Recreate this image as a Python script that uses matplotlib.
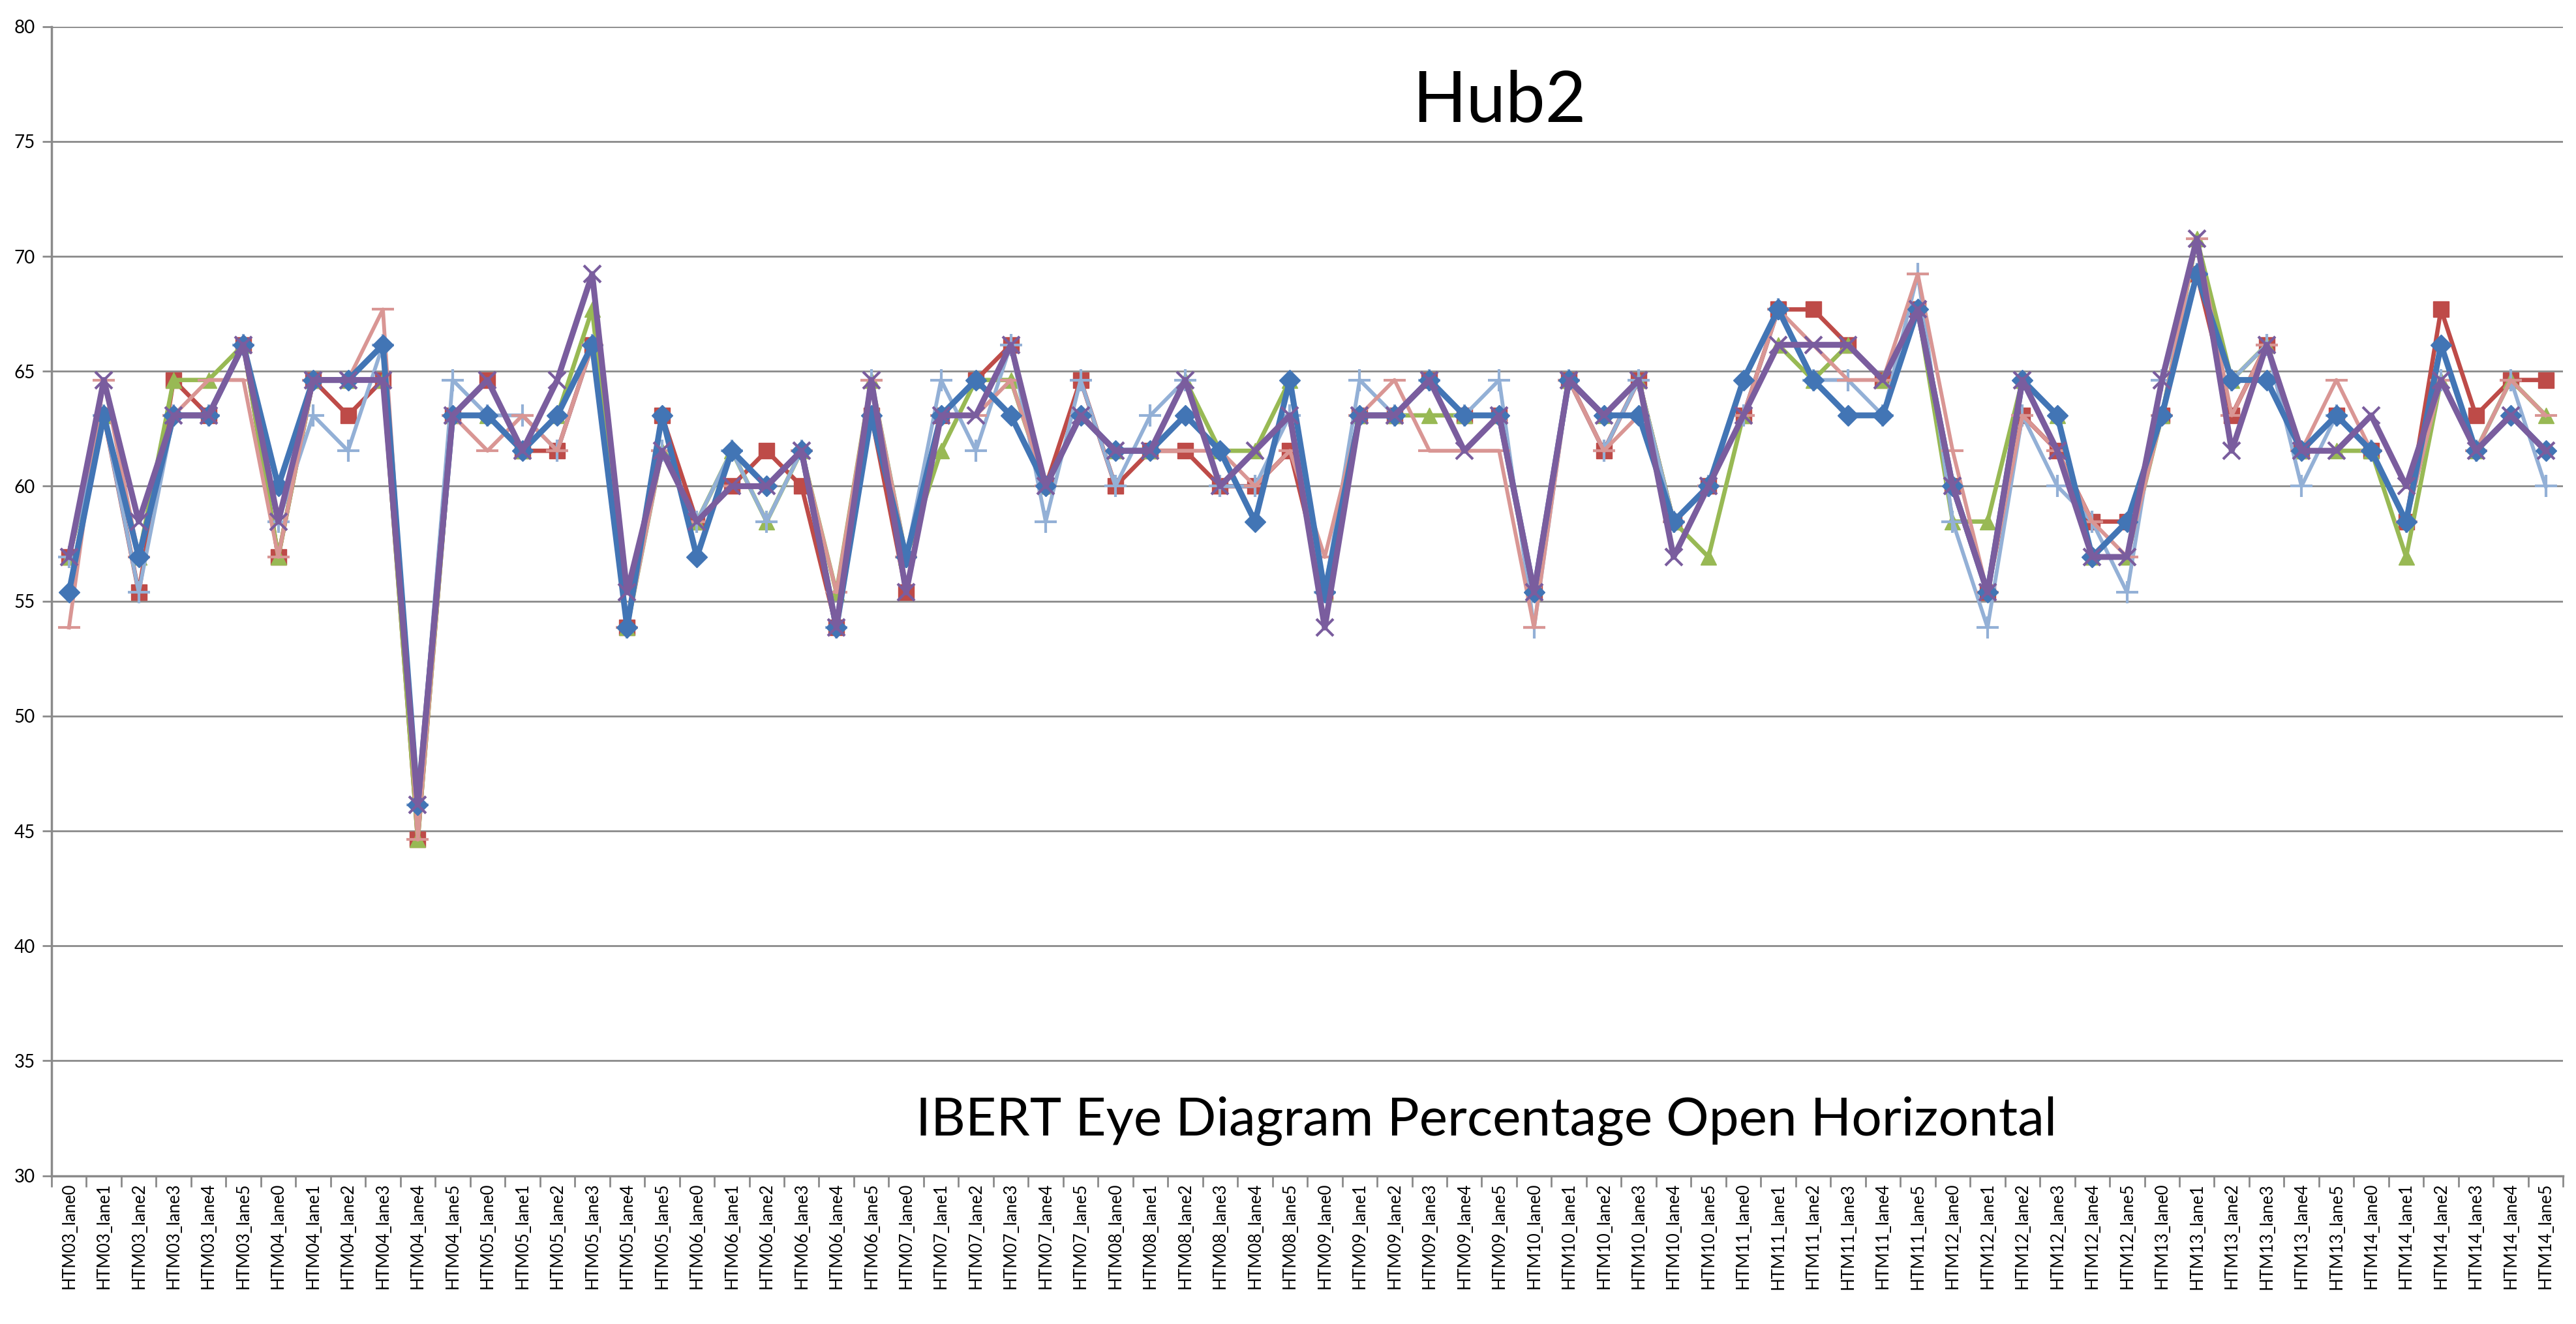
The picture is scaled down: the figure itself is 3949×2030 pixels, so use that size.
import matplotlib
matplotlib.use("Agg")
import matplotlib.pyplot as plt
import numpy as np

plt.rcParams['font.family'] = ['Lato', 'DejaVu Sans']

# categories: HTM03..HTM14, lane0..lane5
htm = ["HTM%02d" % n for n in range(3, 15)]
lanes = ["lane%d" % n for n in range(6)]
categories = [h + "_" + l for h in htm for l in lanes]

# eye opening (%) per series
blue = [55.38, 63.08, 56.92, 63.08, 63.08, 66.15,
        60.00, 64.62, 64.62, 66.15, 46.15, 63.08,
        63.08, 61.54, 63.08, 66.15, 53.85, 63.08,
        56.92, 61.54, 60.00, 61.54, 53.85, 63.08,
        56.92, 63.08, 64.62, 63.08, 60.00, 63.08,
        61.54, 61.54, 63.08, 61.54, 58.46, 64.62,
        55.38, 63.08, 63.08, 64.62, 63.08, 63.08,
        55.38, 64.62, 63.08, 63.08, 58.46, 60.00,
        64.62, 67.69, 64.62, 63.08, 63.08, 67.69,
        60.00, 55.38, 64.62, 63.08, 56.92, 58.46,
        63.08, 69.23, 64.62, 64.62, 61.54, 63.08,
        61.54, 58.46, 66.15, 61.54, 63.08, 61.54]

red = [56.92, 63.08, 55.38, 64.62, 63.08, 66.15,
       56.92, 64.62, 63.08, 64.62, 44.62, 63.08,
       64.62, 61.54, 61.54, 66.15, 53.85, 63.08,
       58.46, 60.00, 61.54, 60.00, 53.85, 63.08,
       55.38, 63.08, 64.62, 66.15, 60.00, 64.62,
       60.00, 61.54, 61.54, 60.00, 60.00, 61.54,
       55.38, 63.08, 63.08, 64.62, 63.08, 63.08,
       55.38, 64.62, 61.54, 64.62, 58.46, 60.00,
       63.08, 67.69, 67.69, 66.15, 64.62, 67.69,
       60.00, 55.38, 63.08, 61.54, 58.46, 58.46,
       63.08, 69.23, 63.08, 66.15, 61.54, 63.08,
       61.54, 58.46, 67.69, 63.08, 64.62, 64.62]

green = [56.92, 63.08, 56.92, 64.62, 64.62, 66.15,
         56.92, 64.62, 64.62, 64.62, 44.62, 63.08,
         63.08, 61.54, 63.08, 67.69, 53.85, 61.54,
         58.46, 61.54, 58.46, 61.54, 55.38, 64.62,
         56.92, 61.54, 64.62, 64.62, 60.00, 63.08,
         61.54, 61.54, 64.62, 61.54, 61.54, 64.62,
         55.38, 63.08, 63.08, 63.08, 63.08, 63.08,
         55.38, 64.62, 63.08, 64.62, 58.46, 56.92,
         63.08, 66.15, 64.62, 66.15, 64.62, 67.69,
         58.46, 58.46, 64.62, 63.08, 56.92, 56.92,
         63.08, 70.77, 64.62, 66.15, 61.54, 61.54,
         61.54, 56.92, 64.62, 61.54, 64.62, 63.08]

purple = [56.92, 64.62, 58.46, 63.08, 63.08, 66.15,
          58.46, 64.62, 64.62, 64.62, 46.15, 63.08,
          64.62, 61.54, 64.62, 69.23, 55.38, 61.54,
          58.46, 60.00, 60.00, 61.54, 53.85, 64.62,
          55.38, 63.08, 63.08, 66.15, 60.00, 63.08,
          61.54, 61.54, 64.62, 60.00, 61.54, 63.08,
          53.85, 63.08, 63.08, 64.62, 61.54, 63.08,
          55.38, 64.62, 63.08, 64.62, 56.92, 60.00,
          63.08, 66.15, 66.15, 66.15, 64.62, 67.69,
          60.00, 55.38, 64.62, 61.54, 56.92, 56.92,
          64.62, 70.77, 61.54, 66.15, 61.54, 61.54,
          63.08, 60.00, 64.62, 61.54, 63.08, 61.54]

light_blue = [56.92, 63.08, 55.38, 63.08, 63.08, 66.15,
              58.46, 63.08, 61.54, 66.15, 46.15, 64.62,
              63.08, 63.08, 61.54, 66.15, 53.85, 61.54,
              58.46, 61.54, 58.46, 61.54, 53.85, 64.62,
              56.92, 64.62, 61.54, 66.15, 58.46, 64.62,
              60.00, 63.08, 64.62, 60.00, 60.00, 63.08,
              55.38, 64.62, 63.08, 64.62, 63.08, 64.62,
              53.85, 64.62, 61.54, 64.62, 58.46, 60.00,
              63.08, 67.69, 64.62, 64.62, 63.08, 69.23,
              58.46, 53.85, 63.08, 60.00, 58.46, 55.38,
              64.62, 69.23, 64.62, 66.15, 60.00, 63.08,
              61.54, 58.46, 64.62, 61.54, 64.62, 60.00]

pink = [53.85, 64.62, 56.92, 63.08, 64.62, 64.62,
        56.92, 64.62, 64.62, 67.69, 44.62, 63.08,
        61.54, 63.08, 61.54, 66.15, 53.85, 61.54,
        58.46, 60.00, 60.00, 61.54, 55.38, 64.62,
        56.92, 63.08, 63.08, 64.62, 60.00, 63.08,
        61.54, 61.54, 61.54, 61.54, 60.00, 61.54,
        56.92, 63.08, 64.62, 61.54, 61.54, 61.54,
        53.85, 64.62, 61.54, 63.08, 58.46, 60.00,
        63.08, 67.69, 66.15, 64.62, 64.62, 69.23,
        61.54, 55.38, 63.08, 61.54, 58.46, 56.92,
        63.08, 70.77, 63.08, 66.15, 61.54, 64.62,
        61.54, 58.46, 64.62, 61.54, 64.62, 63.08]

yticks = list(range(30, 81, 5))

fig = plt.figure(figsize=(39.49, 20.30), dpi=100)
ax = fig.add_axes([0.020, 0.112, 0.975, 0.868])

x = np.arange(len(categories))

# drawn in this order so blue and purple end up on top
series = [
    (red, '#BE4B48', 's', 4.8, 17),
    (green, '#98B954', '^', 4.8, 17),
    (light_blue, '#93B0D6', '+', 4.2, 24),
    (pink, '#D99694', '_', 4.2, 24),
    (blue, '#4275B5', 'D', 6.5, 16),
    (purple, '#7A5D9E', 'x', 6.5, 19),
]
for vals, col, mk, lw, ms in series:
    ax.plot(x, vals, color=col, lw=lw, marker=mk, ms=ms,
            mew=3 if mk in '+_x' else 1, mec=col, mfc=col)

ax.set_xlim(-0.5, len(categories) - 0.5)
ax.set_ylim(30, 80)
ax.set_yticks(yticks)
ax.set_yticklabels([str(t) for t in yticks], fontsize=20)
ax.yaxis.grid(True, color='#8A8A8A', lw=2)
ax.set_axisbelow(True)

ax.set_xticks(x)
ax.set_xticklabels(categories, rotation=90, fontsize=18.5)
ax.set_xticks(np.arange(-0.5, len(categories), 1), minor=True)
ax.tick_params(axis='x', which='major', length=0, pad=8)
ax.tick_params(axis='x', which='minor', length=12, width=2, color='#8A8A8A')
ax.tick_params(axis='y', length=10, width=2, color='#8A8A8A', pad=8)

for side in ['top', 'right']:
    ax.spines[side].set_visible(False)
for side in ['left', 'bottom']:
    ax.spines[side].set_color('#8A8A8A')
    ax.spines[side].set_linewidth(2.5)

fig.text(0.582, 0.923, "Hub2", fontsize=78, ha='center', va='center')
fig.text(0.577, 0.153, "IBERT Eye Diagram Percentage Open Horizontal",
         fontsize=59, ha='center', va='center')

fig.savefig("out.png", dpi=100, facecolor='white')
